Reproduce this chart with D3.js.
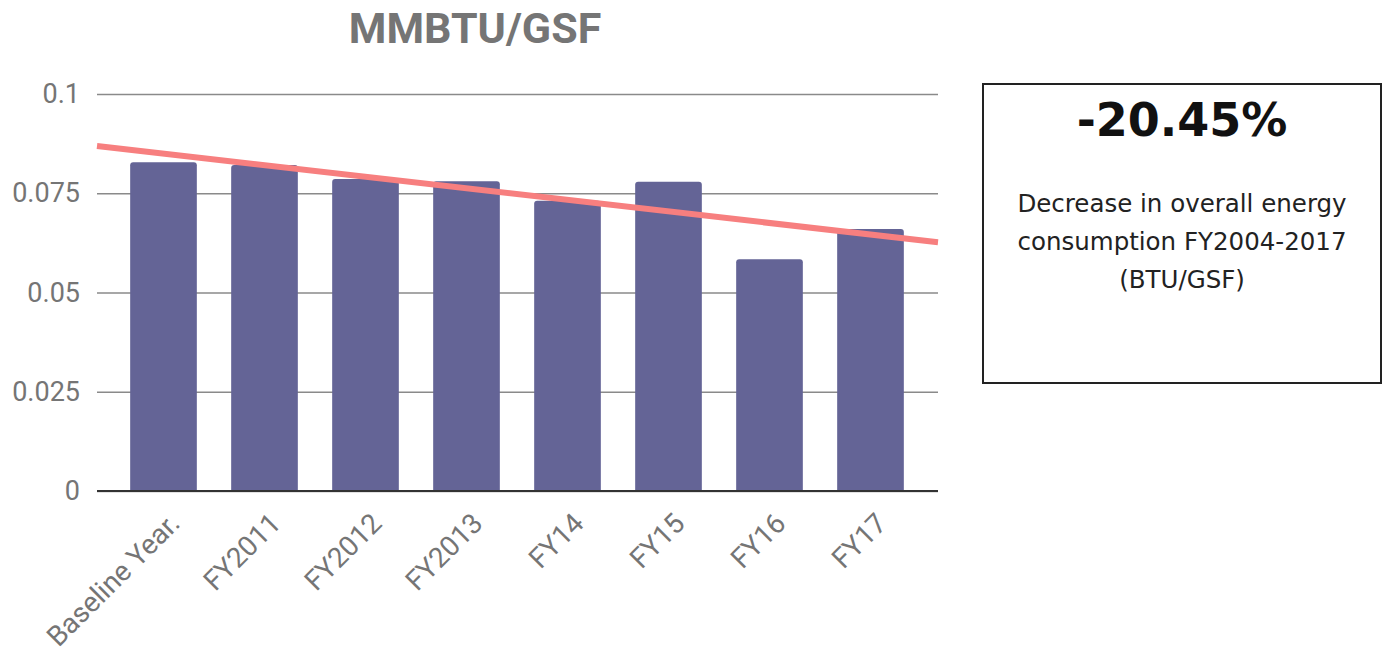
<!DOCTYPE html>
<html>
<head>
<meta charset="utf-8">
<title>MMBTU/GSF</title>
<script src="https://cdnjs.cloudflare.com/ajax/libs/d3/7.8.5/d3.min.js"></script>
<style>
  body { margin: 0; background: #fff; }
  .chart text { font-family: Roboto, "Noto Sans", sans-serif; }
  .box text { font-family: "DejaVu Sans", Verdana, sans-serif; }
</style>
</head>
<body>
<script>
// data
const categories = ["Baseline Year.", "FY2011", "FY2012", "FY2013", "FY14", "FY15", "FY16", "FY17"];
const values = [0.0828, 0.0821, 0.0786, 0.0780, 0.0731, 0.0779, 0.0584, 0.0660];
// linear trend, value at first and last category
const trendEnds = [0.0850, 0.0646];
const yTicks = [0, 0.025, 0.05, 0.075, 0.1];
const yTickLabels = ["0", "0.025", "0.05", "0.075", "0.1"];
const boxHeadline = "-20.45%";
const boxLines = ["Decrease in overall energy", "consumption FY2004-2017", "(BTU/GSF)"];

const W = 1390, H = 654;
const plot = {left: 97, right: 938, top: 94, bottom: 491};

const svg = d3.select("body").append("svg")
    .attr("width", W).attr("height", H);
const chart = svg.append("g").attr("class", "chart");

const x = d3.scaleBand()
    .domain(categories)
    .range([113, 921])
    .paddingInner(0.34)
    .paddingOuter(0.17);

const y = d3.scaleLinear()
    .domain([0, 0.1])
    .range([plot.bottom, plot.top]);

// title
chart.append("text")
    .attr("x", 475).attr("y", 43)
    .attr("text-anchor", "middle")
    .attr("font-size", 43).attr("font-weight", "bold")
    .attr("fill", "#757575")
    .text("MMBTU/GSF");

// gridlines + y labels
const yAxis = d3.axisLeft(y)
    .tickValues(yTicks)
    .tickSize(-(plot.right - plot.left))
    .tickPadding(17)
    .tickFormat((d, i) => yTickLabels[i]);

const gy = chart.append("g")
    .attr("transform", `translate(${plot.left},0)`)
    .call(yAxis);
gy.select(".domain").remove();
gy.selectAll(".tick line").attr("stroke", "#8a8a8a").attr("stroke-width", 1.5);
gy.selectAll(".tick text")
    .attr("font-size", 27).attr("fill", "#757575")
    .attr("font-family", null);

// bars with rounded tops
const r = 3;
chart.append("g").selectAll("path")
  .data(values)
  .join("path")
    .attr("fill", "#646496")
    .attr("d", (d, i) => {
      const x0 = x(categories[i]), w = x.bandwidth();
      const yt = y(d), yb = y(0);
      return `M${x0},${yb}V${yt + r}Q${x0},${yt} ${x0 + r},${yt}H${x0 + w - r}Q${x0 + w},${yt} ${x0 + w},${yt + r}V${yb}Z`;
    });

// zero baseline
chart.append("line")
    .attr("x1", plot.left).attr("x2", plot.right)
    .attr("y1", y(0)).attr("y2", y(0))
    .attr("stroke", "#333").attr("stroke-width", 2);

// x labels
const xAxis = d3.axisBottom(x).tickSize(0).tickPadding(0);
const gx = chart.append("g")
    .attr("transform", `translate(0,${plot.bottom})`)
    .call(xAxis);
gx.select(".domain").remove();
gx.selectAll(".tick text")
    .attr("font-size", 28).attr("fill", "#757575")
    .attr("font-family", null)
    .attr("text-anchor", "end")
    .attr("dy", null).attr("y", 0)
    .attr("transform", "translate(18,34) rotate(-45)");

// trend line, extended to plot edges
const cx0 = x(categories[0]) + x.bandwidth() / 2;
const cx1 = x(categories[categories.length - 1]) + x.bandwidth() / 2;
const slope = (y(trendEnds[1]) - y(trendEnds[0])) / (cx1 - cx0);
chart.append("line")
    .attr("x1", plot.left).attr("y1", y(trendEnds[0]) + slope * (plot.left - cx0))
    .attr("x2", plot.right).attr("y2", y(trendEnds[0]) + slope * (plot.right - cx0))
    .attr("stroke", "#f77f7f").attr("stroke-width", 6);

// annotation box
const box = {x: 983, y: 84, w: 398, h: 299};
const bg = svg.append("g").attr("class", "box");
bg.append("rect")
    .attr("x", box.x).attr("y", box.y)
    .attr("width", box.w).attr("height", box.h)
    .attr("fill", "#fff").attr("stroke", "#222").attr("stroke-width", 2);

bg.append("text")
    .attr("x", box.x + box.w / 2).attr("y", 136)
    .attr("text-anchor", "middle")
    .attr("font-weight", "bold").attr("font-size", 46)
    .attr("fill", "#111")
    .text(boxHeadline);

bg.append("g").selectAll("text")
  .data(boxLines)
  .join("text")
    .attr("x", box.x + box.w / 2)
    .attr("y", (d, i) => 212 + i * 38)
    .attr("text-anchor", "middle")
    .attr("font-size", 24.5)
    .attr("fill", "#222")
    .text(d => d);
</script>
</body>
</html>
